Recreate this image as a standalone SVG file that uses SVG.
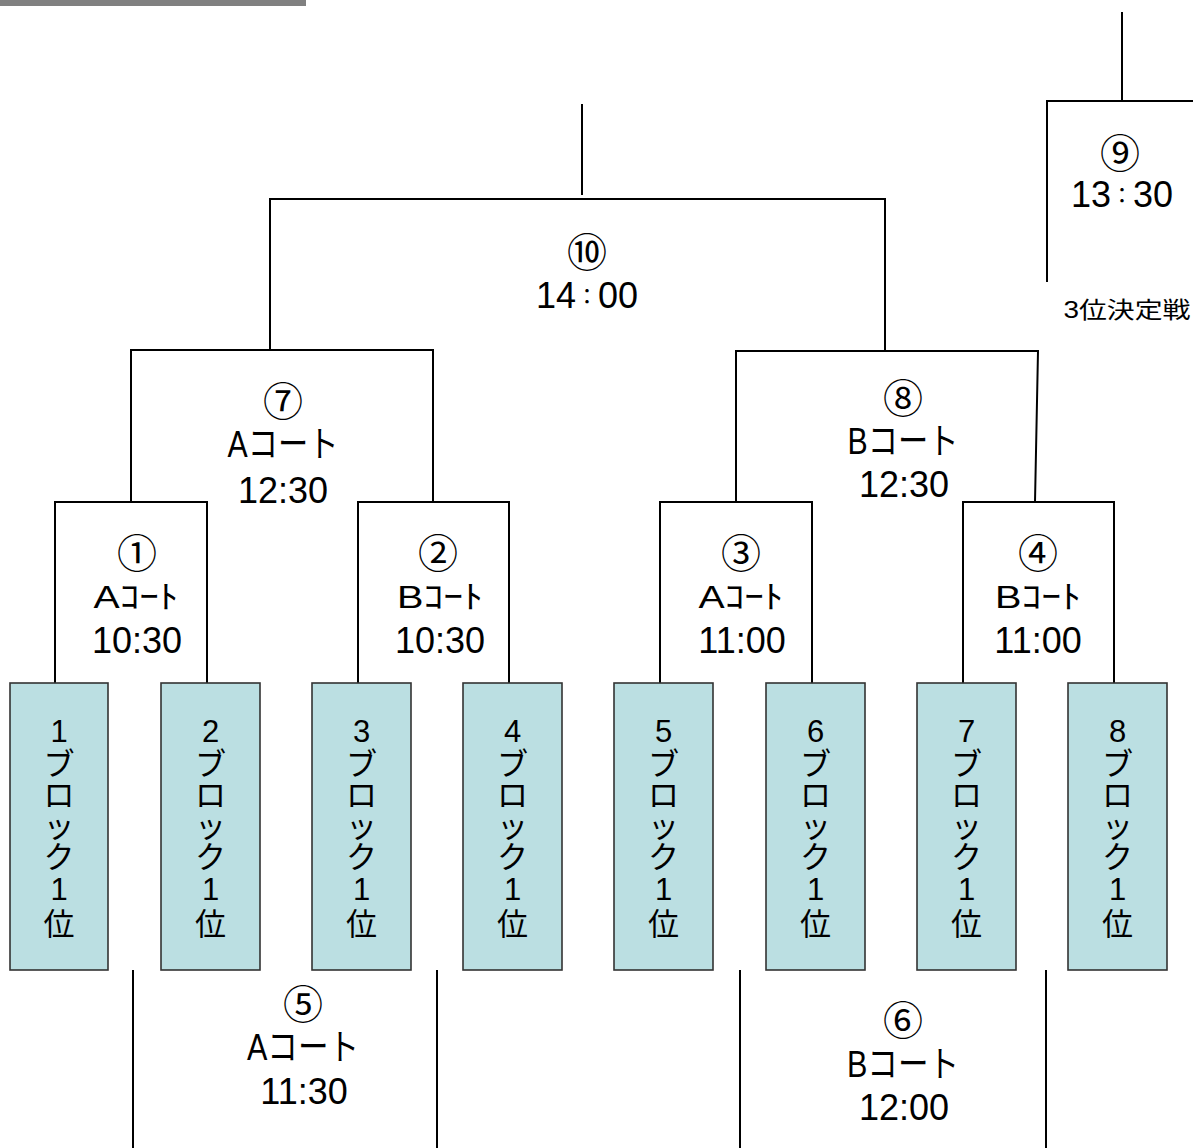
<svg xmlns="http://www.w3.org/2000/svg" width="1193" height="1148" viewBox="0 0 1193 1148">
<style>
.ln{fill:none;stroke:#000;stroke-width:2}
.box{fill:#BBDFE2;stroke:#333;stroke-width:1.6}
text{font-family:"Liberation Sans","Noto Sans CJK JP",sans-serif;fill:#000;text-anchor:middle}
.c{font-size:40px}
.t{font-size:36px}
.k{font-size:22px}
.h{font-size:32px}
.v{font-size:31px}
.s{font-size:23px}
</style>
<rect x="0" y="0" width="306" height="6" fill="#808080"/>
<g id="connectors">
<path class="ln" d="M582,104V195"/>
<path class="ln" d="M270,350V199H885V351"/>
<path class="ln" d="M131,502V350H433V502"/>
<path class="ln" d="M736,502V351H1038L1035,502"/>
<path class="ln" d="M55,683V502H207V683"/>
<path class="ln" d="M358,683V502H509V683"/>
<path class="ln" d="M660,683V502H812V683"/>
<path class="ln" d="M963,683V502H1114V683"/>
<path class="ln" d="M1122,12V101"/>
<path class="ln" d="M1047,282V101H1193"/>
<path class="ln" d="M133,970V1148M437,970V1148"/>
<path class="ln" d="M740,970V1148M1046,970V1148"/>
</g>
<g id="m10"><text class="c" x="587" y="267">⑩</text><text class="t" x="587" y="308">14<tspan class="k" dy="-4">：</tspan><tspan dy="4">00</tspan></text></g>
<g id="m9"><text class="c" x="1120" y="168">⑨</text><text class="t" x="1122" y="207">13<tspan class="k" dy="-4">：</tspan><tspan dy="4">30</tspan></text><text class="s" x="1127" y="318" textLength="127" lengthAdjust="spacingAndGlyphs">3位決定戦</text></g>
<g id="m7"><text class="c" x="283" y="416">⑦</text><text class="t" x="283" y="457" textLength="111" lengthAdjust="spacingAndGlyphs">Aコート</text><text class="t" x="283" y="503">12:30</text></g>
<g id="m8"><text class="c" x="903" y="413">⑧</text><text class="t" x="903" y="454" textLength="111" lengthAdjust="spacingAndGlyphs">Bコート</text><text class="t" x="904" y="497">12:30</text></g>
<g id="m1"><text class="c" x="137" y="568">①</text><text class="h" x="136" y="608" textLength="85" lengthAdjust="spacingAndGlyphs">Aｺｰﾄ</text><text class="t" x="137" y="653">10:30</text></g>
<g id="m2"><text class="c" x="438" y="568">②</text><text class="h" x="440" y="608" textLength="86" lengthAdjust="spacingAndGlyphs">Bｺｰﾄ</text><text class="t" x="440" y="653">10:30</text></g>
<g id="m3"><text class="c" x="741" y="568">③</text><text class="h" x="741" y="608" textLength="85" lengthAdjust="spacingAndGlyphs">Aｺｰﾄ</text><text class="t" x="742" y="653">11:00</text></g>
<g id="m4"><text class="c" x="1038" y="568">④</text><text class="h" x="1038" y="608" textLength="86" lengthAdjust="spacingAndGlyphs">Bｺｰﾄ</text><text class="t" x="1038" y="653">11:00</text></g>
<g id="m5"><text class="c" x="303" y="1019">⑤</text><text class="t" x="303" y="1060" textLength="112" lengthAdjust="spacingAndGlyphs">Aコート</text><text class="t" x="304" y="1104">11:30</text></g>
<g id="m6"><text class="c" x="903" y="1035">⑥</text><text class="t" x="903" y="1077" textLength="112" lengthAdjust="spacingAndGlyphs">Bコート</text><text class="t" x="904" y="1120">12:00</text></g>
<g id="b1"><rect class="box" x="10" y="683" width="98" height="287"/><text class="v"><tspan x="59" y="742">1</tspan><tspan x="59" y="775">ブ</tspan><tspan x="59" y="806">ロ</tspan><tspan x="59" y="837">ッ</tspan><tspan x="59" y="868">ク</tspan><tspan x="59" y="900">1</tspan><tspan x="59" y="935">位</tspan></text></g>
<g id="b2"><rect class="box" x="161" y="683" width="99" height="287"/><text class="v"><tspan x="210.5" y="742">2</tspan><tspan x="210.5" y="775">ブ</tspan><tspan x="210.5" y="806">ロ</tspan><tspan x="210.5" y="837">ッ</tspan><tspan x="210.5" y="868">ク</tspan><tspan x="210.5" y="900">1</tspan><tspan x="210.5" y="935">位</tspan></text></g>
<g id="b3"><rect class="box" x="312" y="683" width="99" height="287"/><text class="v"><tspan x="361.5" y="742">3</tspan><tspan x="361.5" y="775">ブ</tspan><tspan x="361.5" y="806">ロ</tspan><tspan x="361.5" y="837">ッ</tspan><tspan x="361.5" y="868">ク</tspan><tspan x="361.5" y="900">1</tspan><tspan x="361.5" y="935">位</tspan></text></g>
<g id="b4"><rect class="box" x="463" y="683" width="99" height="287"/><text class="v"><tspan x="512.5" y="742">4</tspan><tspan x="512.5" y="775">ブ</tspan><tspan x="512.5" y="806">ロ</tspan><tspan x="512.5" y="837">ッ</tspan><tspan x="512.5" y="868">ク</tspan><tspan x="512.5" y="900">1</tspan><tspan x="512.5" y="935">位</tspan></text></g>
<g id="b5"><rect class="box" x="614" y="683" width="99" height="287"/><text class="v"><tspan x="663.5" y="742">5</tspan><tspan x="663.5" y="775">ブ</tspan><tspan x="663.5" y="806">ロ</tspan><tspan x="663.5" y="837">ッ</tspan><tspan x="663.5" y="868">ク</tspan><tspan x="663.5" y="900">1</tspan><tspan x="663.5" y="935">位</tspan></text></g>
<g id="b6"><rect class="box" x="766" y="683" width="99" height="287"/><text class="v"><tspan x="815.5" y="742">6</tspan><tspan x="815.5" y="775">ブ</tspan><tspan x="815.5" y="806">ロ</tspan><tspan x="815.5" y="837">ッ</tspan><tspan x="815.5" y="868">ク</tspan><tspan x="815.5" y="900">1</tspan><tspan x="815.5" y="935">位</tspan></text></g>
<g id="b7"><rect class="box" x="917" y="683" width="99" height="287"/><text class="v"><tspan x="966.5" y="742">7</tspan><tspan x="966.5" y="775">ブ</tspan><tspan x="966.5" y="806">ロ</tspan><tspan x="966.5" y="837">ッ</tspan><tspan x="966.5" y="868">ク</tspan><tspan x="966.5" y="900">1</tspan><tspan x="966.5" y="935">位</tspan></text></g>
<g id="b8"><rect class="box" x="1068" y="683" width="99" height="287"/><text class="v"><tspan x="1117.5" y="742">8</tspan><tspan x="1117.5" y="775">ブ</tspan><tspan x="1117.5" y="806">ロ</tspan><tspan x="1117.5" y="837">ッ</tspan><tspan x="1117.5" y="868">ク</tspan><tspan x="1117.5" y="900">1</tspan><tspan x="1117.5" y="935">位</tspan></text></g>
</svg>
